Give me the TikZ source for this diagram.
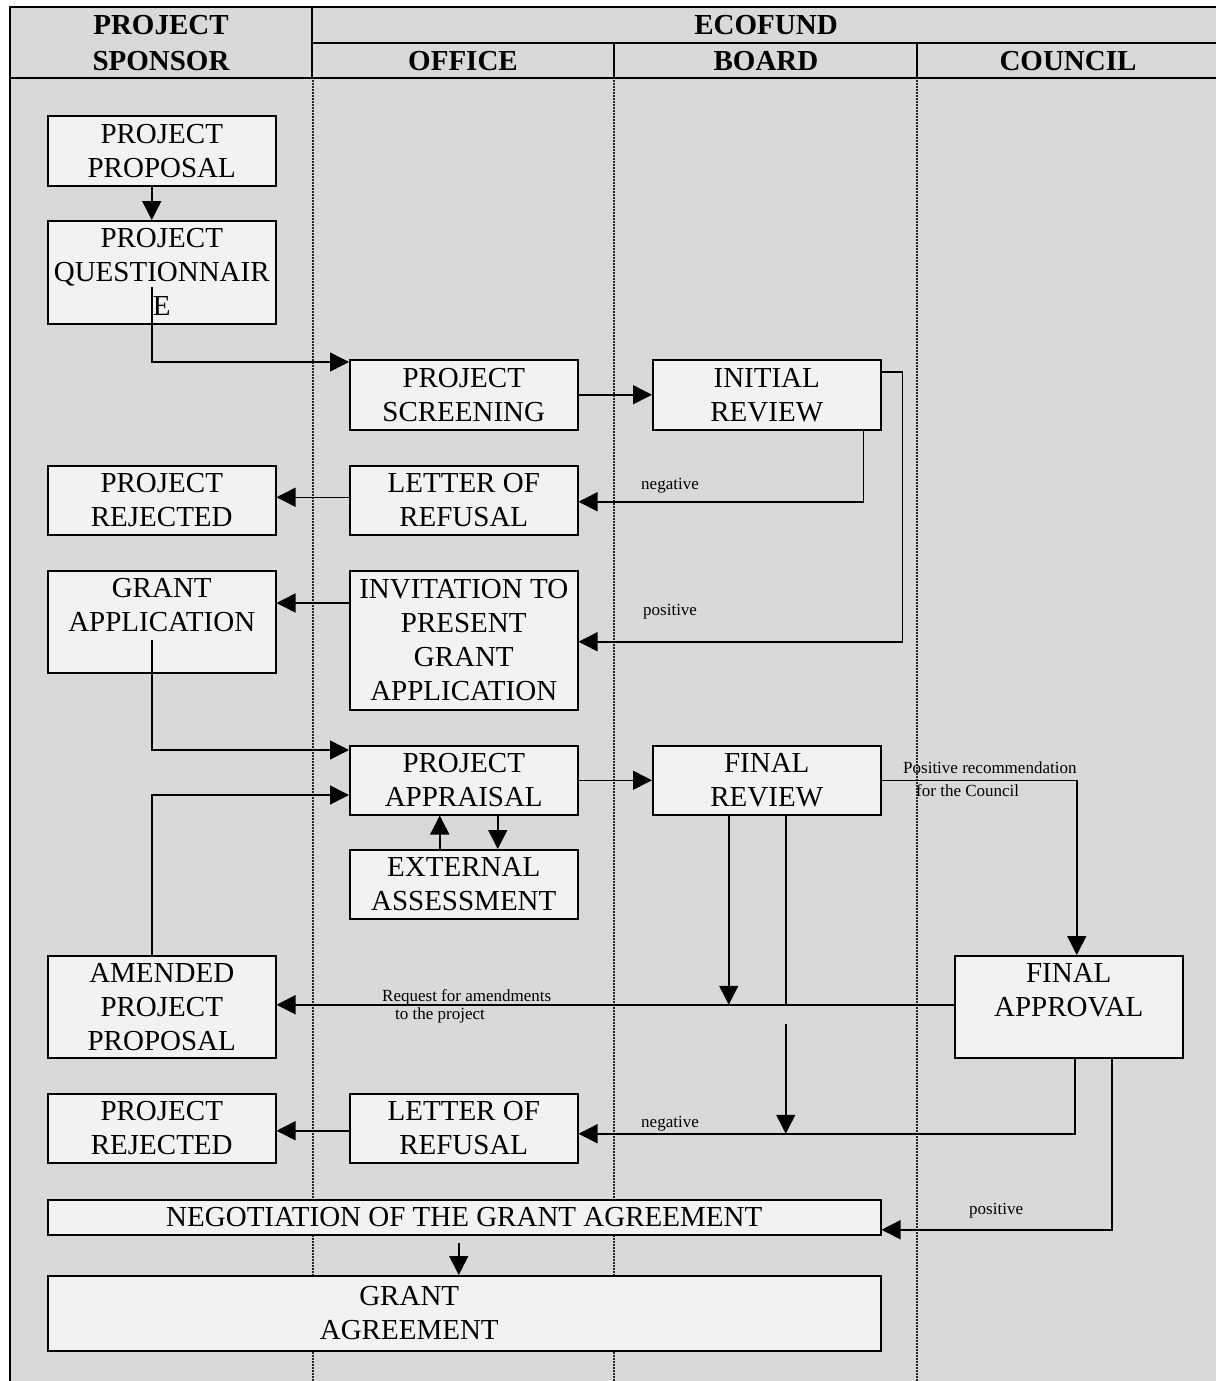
\documentclass[tikz,border=0pt]{standalone}
\usepackage{fontspec}
\setmainfont{Liberation Serif}
\usetikzlibrary{arrows.meta}

\newcommand{\boxfont}{\fontsize{29}{34}\selectfont}
\newcommand{\notefont}{\fontsize{17}{23}\selectfont}
\newcommand{\headfont}{\bfseries\fontsize{29}{36}\selectfont}

\begin{document}
\begin{tikzpicture}[x=1pt, y=-1pt,
  stage/.style={draw, line width=1.5pt, fill=black!5, minimum width=228pt, minimum height=70pt, align=center, inner sep=1pt, font=\boxfont, anchor=north west},
  note/.style={font=\notefont, align=left, inner sep=0pt},
  lane/.style={dash pattern=on 1.5pt off 1.5pt, line width=2.2pt, black!85},
  >={Triangle[length=19pt,width=19pt]}, flow/.style={->, line width=1.5pt}]
	\useasboundingbox (0,0) rectangle (1216,1381);
	\fill[black!15] (10,7) rectangle (1216,1381);
	\draw[line width=1.8pt] (10,1381) -- (10,7) -- (1216,7);
	\draw[line width=1.8pt] (10,78) -- (1216,78);
	\draw[line width=1.2pt] (312,7) -- (312,78);
	\draw[line width=1.2pt] (312,43) -- (1216,43);
	\draw[line width=1.2pt] (614,43) -- (614,78);
	\draw[line width=1.2pt] (917,43) -- (917,78);
	\foreach \x in {313,614,917}
		\draw[lane] (\x,80) -- (\x,1381);

	\node[font=\headfont, align=center] (sponsor) at (161,43) {PROJECT\\SPONSOR};
	\node[font=\headfont] (ecofund) at (766,25) {ECOFUND};
	\node[font=\headfont] (office) at (463,61) {OFFICE};
	\node[font=\headfont] (board) at (766,61) {BOARD};
	\node[font=\headfont] (council) at (1068,61) {COUNCIL};

	\node[stage] (proposal) at (47,115) {PROJECT\\PROPOSAL};
	\node[stage, minimum height=103pt] (quest) at (47,220) {PROJECT\\QUESTIONNAIR\\E};
	\node[stage] (screening) at (349,359) {PROJECT\\SCREENING};
	\node[stage] (initial) at (652,359) {INITIAL\\REVIEW};
	\node[stage, minimum height=69pt] (rejectA) at (47,465) {PROJECT\\REJECTED};
	\node[stage, minimum height=69pt] (refusalA) at (349,465) {LETTER OF\\REFUSAL};
	\node[stage, minimum height=102pt] (grantapp) at (47,570) {GRANT\\APPLICATION\\\mbox{}};
	\node[stage, minimum height=139pt] (invitation) at (349,570) {INVITATION TO\\PRESENT\\GRANT\\APPLICATION};
	\node[stage, minimum height=69pt] (appraisal) at (349,745) {PROJECT\\APPRAISAL};
	\node[stage, minimum height=69pt] (finalrev) at (652,745) {FINAL\\REVIEW};
	\node[stage, minimum height=69pt] (external) at (349,849) {EXTERNAL\\ASSESSMENT};
	\node[stage, minimum height=102pt] (amended) at (47,955) {AMENDED\\PROJECT\\PROPOSAL};
	\node[stage, minimum height=102pt] (approval) at (954,955) {FINAL\\APPROVAL\\\mbox{}};
	\node[stage, minimum height=69pt] (rejectB) at (47,1093) {PROJECT\\REJECTED};
	\node[stage, minimum height=69pt] (refusalB) at (349,1093) {LETTER OF\\REFUSAL};
	\node[stage, minimum width=833pt, minimum height=35pt] (negotiation) at (47,1199) {NEGOTIATION OF THE GRANT AGREEMENT};
	\node[stage, minimum width=833pt, minimum height=75pt] (agreement) at (47,1275) {GRANT\hspace*{110pt}\\AGREEMENT\hspace*{110pt}};

	\coordinate (amendline) at ([yshift=2pt]approval.west);
	\coordinate (negline) at ([yshift=-5.5pt]refusalB.east);
	\coordinate (revleft) at ([xshift=-38pt]finalrev.south);
	\coordinate (revright) at ([xshift=19pt]finalrev.south);

	\draw[flow] ([xshift=-10pt]proposal.south) -- ([xshift=-10pt]quest.north);
	\draw[flow] ([xshift=-10pt,yshift=38pt]quest.south) |- ([yshift=-3pt]screening.north west);
	\draw[flow] (screening.east) -- (initial.west);
	\draw[flow] ([xshift=-18pt]initial.south east) |- ([yshift=-1.5pt]refusalA.east);
	\draw[flow] ([yshift=-13pt]initial.north east) -- ++(21,0) |- ([yshift=-1.5pt]invitation.east);
	\draw[flow] ([yshift=3pt]refusalA.west) -- ([yshift=3pt]rejectA.east);
	\draw[flow] ([yshift=-33pt]invitation.north west) -- ([yshift=-33pt]grantapp.north east);
	\draw[flow] ([xshift=-10pt,yshift=34pt]grantapp.south) |- ([yshift=-5pt]appraisal.north west);
	\draw[flow] ([xshift=-10pt]amended.north) |- ([yshift=-50pt]appraisal.north west);
	\draw[flow] (appraisal.east) -- (finalrev.west);
	\draw[flow] ([xshift=-24pt]external.north) -- ([xshift=-24pt]appraisal.south);
	\draw[flow] ([xshift=34pt]appraisal.south) -- ([xshift=34pt]external.north);
	\draw[flow] (finalrev.east) -| ([xshift=8pt]approval.north);
	\draw[flow] (amendline) -- (amendline -| amended.east);
	\draw[flow] (revleft) -- (revleft |- amendline);
	\draw[line width=1.5pt] (revright) -- (revright |- amendline);
	\draw[flow] (revright |- amendline) ++(0,19) -- (revright |- negline);
	\draw[flow] ([xshift=6pt]approval.south) |- (negline);
	\draw[flow] ([yshift=-2.5pt]refusalB.west) -- ([yshift=-2.5pt]rejectB.east);
	\draw[flow] ([xshift=43pt]approval.south) |- ([yshift=-12.5pt]negotiation.east);
	\draw[flow] ([xshift=-5.5pt,yshift=-7pt]negotiation.south) -- ([xshift=-5.5pt]agreement.north);

	\node[note, anchor=base west] (negA) at (641,489) {negative};
	\node[note, anchor=base west] (posA) at (643,615) {positive};
	\node[note, anchor=north west] (recommend) at (903,761) {Positive recommendation\\\hspace*{13pt}for the Council};
	\node[note, anchor=north west] (request) at (382,989) {Request for amendments\\[-5pt]\hspace*{13pt}to the project};
	\node[note, anchor=base west] (negB) at (641,1127) {negative};
	\node[note, anchor=base west] (posB) at (969,1214) {positive};
\end{tikzpicture}
\end{document}
